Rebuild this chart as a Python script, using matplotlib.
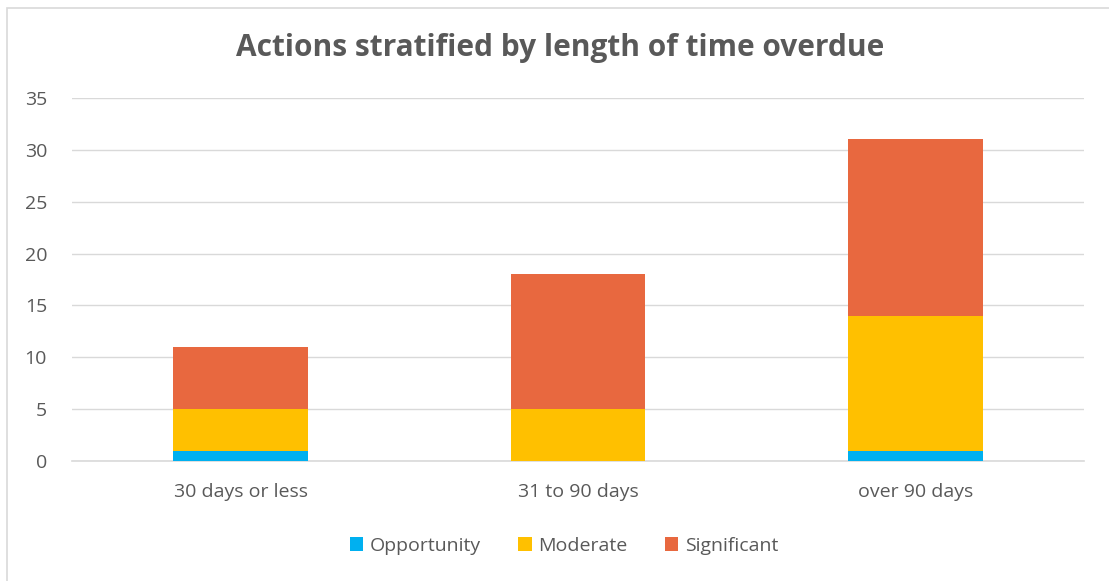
import matplotlib
matplotlib.use("Agg")
import matplotlib.pyplot as plt
from matplotlib.patches import Rectangle
import numpy as np

categories = ["30 days or less", "31 to 90 days", "over 90 days"]
opportunity = [1, 0, 1]
moderate = [4, 5, 13]
significant = [6, 13, 17]
series_names = ["Opportunity", "Moderate", "Significant"]
colors = ["#00B0F0", "#FFC000", "#E8683F"]
yticks = [0, 5, 10, 15, 20, 25, 30, 35]

plt.rcParams['font.family'] = ['Open Sans', 'DejaVu Sans']
txt = "#595959"

W, H = 1109, 581
fig = plt.figure(figsize=(W/100, H/100), dpi=100)
ax = fig.add_axes([72/W, 1-461/H, 1012/W, 363/H])

x = np.arange(len(categories))
bottom = np.zeros(len(categories))
handles = []
for vals, name, c in zip([opportunity, moderate, significant], series_names, colors):
    b = ax.bar(x, vals, width=0.4, bottom=bottom, color=c, label=name, zorder=3)
    handles.append(b)
    bottom += np.array(vals)

ax.set_xlim(-0.5, 2.5)
ax.set_ylim(0, 35)
ax.set_yticks(yticks)
ax.set_xticks(x)
ax.set_xticklabels(categories)
ax.tick_params(axis='both', length=0, labelsize=14, labelcolor=txt)
ax.tick_params(axis='x', pad=16)
ax.tick_params(axis='y', pad=18)
for lbl in ax.get_yticklabels():
    lbl.set_horizontalalignment('right')
ax.grid(axis='y', color='#D9D9D9', linewidth=1, zorder=0)
for s in ['top', 'right', 'left']:
    ax.spines[s].set_visible(False)
ax.spines['bottom'].set_color('#D9D9D9')
ax.spines['bottom'].set_linewidth(1.2)

fig.text(560/W, 1-48/H, "Actions stratified by length of time overdue", ha='center', va='center',
         fontsize=21.5, fontweight='bold', color=txt)

fig.legend(handles, series_names, loc='center', bbox_to_anchor=(564/W, 1-546/H), ncol=3,
           frameon=False, fontsize=14, labelcolor=txt, handlelength=0.7, handleheight=0.7,
           handletextpad=0.35, columnspacing=1.9)

fig.patches.append(Rectangle((7/W, -0.05), 1.2, 1-8/H+0.05, transform=fig.transFigure,
                             fill=False, edgecolor='#D9D9D9', linewidth=1.2))

fig.savefig("out.png", dpi=100)
